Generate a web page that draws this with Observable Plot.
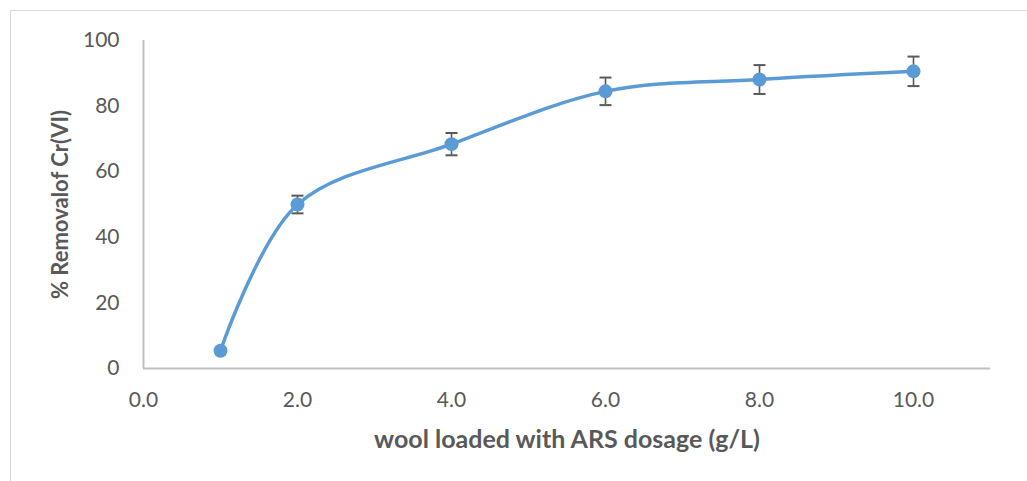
<!DOCTYPE html>
<html>
<head>
<meta charset="utf-8">
<script src="https://cdn.jsdelivr.net/npm/d3@7"></script>
<script src="https://cdn.jsdelivr.net/npm/@observablehq/plot@0.6"></script>
<style>
  html, body { margin: 0; padding: 0; background: #fff; }
  #wrap { position: relative; width: 1027px; height: 481px; overflow: hidden; }
  #frame { position: absolute; left: 10px; top: 10px; right: -5px; bottom: -5px;
           border-left: 1.5px solid #d9d9d9; border-top: 1.5px solid #d9d9d9; pointer-events: none; }
  #chart { position: absolute; left: 0; top: 0; }
  svg { font-family: Lato, "Open Sans", sans-serif; }
</style>
</head>
<body>
<div id="wrap"><div id="frame"></div><div id="chart"></div></div>
<script>
// Data
const dosage  = [1, 2, 4, 6, 8, 10];                 // wool loaded with ARS dosage (g/L)
const removal = [5.4, 50.0, 68.4, 84.5, 88.1, 90.6]; // % removal of Cr(VI)
const errBar  = [0, 2.7, 3.4, 4.2, 4.4, 4.5];        // error (±)
const xTicks  = [0, 2, 4, 6, 8, 10];
const yTicks  = [0, 20, 40, 60, 80, 100];
const xTitle  = "wool loaded with ARS dosage (g/L)";
const yTitle  = "% Removalof Cr(VI)";

const data = dosage.map((d, i) => ({x: d, y: removal[i], e: errBar[i]}));
const blue = "#5b9bd5";
const grey = "#595959";

const capSymbol = {
  draw(context) { context.moveTo(-6, 0); context.lineTo(6, 0); }
};

const chart = Plot.plot({
  width: 1027,
  height: 481,
  marginLeft: 143,
  marginRight: 37,
  marginTop: 40,
  marginBottom: 113,
  style: {fontSize: "21px", color: grey, background: "transparent", overflow: "visible"},
  x: {domain: [0, 11]},
  y: {domain: [0, 100]},
  marks: [
    Plot.axisY({ticks: yTicks, tickSize: 0, tickPadding: 24, label: null, fill: grey, fontSize: 21}),
    Plot.axisX({ticks: xTicks, tickSize: 0, tickPadding: 24, label: null, tickFormat: d => d.toFixed(1), fill: grey, fontSize: 21}),
    Plot.ruleX([0], {stroke: "#bfbfbf", strokeWidth: 2}),
    Plot.ruleY([0], {stroke: "#bfbfbf", strokeWidth: 2}),
    Plot.ruleX(data.filter(d => d.e > 0), {x: "x", y1: d => d.y - d.e, y2: d => d.y + d.e, stroke: grey, strokeWidth: 1.6}),
    Plot.dot(data.filter(d => d.e > 0), {x: "x", y: d => d.y + d.e, symbol: capSymbol, stroke: grey, strokeWidth: 2, fill: "none"}),
    Plot.dot(data.filter(d => d.e > 0), {x: "x", y: d => d.y - d.e, symbol: capSymbol, stroke: grey, strokeWidth: 2, fill: "none"}),
    Plot.line(data, {x: "x", y: "y", stroke: blue, strokeWidth: 3.5, curve: "cardinal"}),
    Plot.dot(data, {x: "x", y: "y", r: 7, fill: blue, stroke: "none"}),
    Plot.text([xTitle], {frameAnchor: "bottom", textAnchor: "middle", lineAnchor: "middle", dy: 71, fontWeight: "bold", fontSize: 25, fill: grey}),
    Plot.text([yTitle], {frameAnchor: "left", textAnchor: "middle", lineAnchor: "middle", dx: -83, rotate: -90, fontWeight: "bold", fontSize: 22, fill: grey})
  ]
});
document.getElementById("chart").appendChild(chart);
</script>
</body>
</html>
